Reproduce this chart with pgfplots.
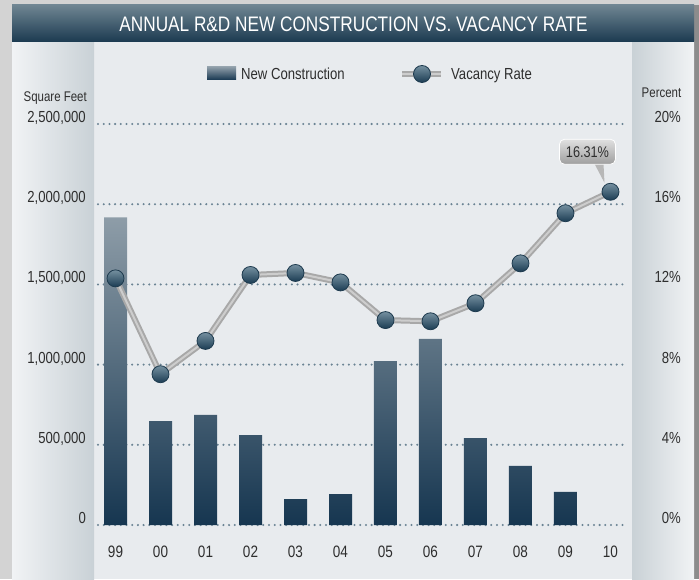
\documentclass[border=0pt]{standalone}
\usepackage{pgfplots}
\pgfplotsset{compat=1.18}
\usepackage{fontspec}
\setmainfont{Liberation Sans}[FakeStretch=0.82]
\definecolor{outerbg}{HTML}{D3D3D3}
\definecolor{outerdark}{HTML}{8C8C8C}
\definecolor{plotbg}{HTML}{E8EBEE}
\definecolor{panelA}{HTML}{F1F3F5}
\definecolor{panelB}{HTML}{C9D1D6}
\definecolor{titleTop}{HTML}{6F8592}
\definecolor{titleBot}{HTML}{1B3A50}
\definecolor{barTop}{HTML}{8E9DA8}
\definecolor{barBot}{HTML}{163650}
\definecolor{gridc}{HTML}{6A8393}
\definecolor{lineOuter}{HTML}{A8A8A8}
\definecolor{lineInner}{HTML}{CDCDCD}
\definecolor{markTop}{HTML}{7590A0}
\definecolor{markBot}{HTML}{1B3C53}
\definecolor{markDraw}{HTML}{1D3A4E}
\definecolor{txt}{HTML}{2E2E2E}
\pgfplotstableread{
x c
0 1918000
1 648000
2 686000
3 561000
4 162000
5 193000
6 1022000
7 1160000
8 542000
9 368000
10 206000
}\constr
\pgfplotstableread{
x v
0 12.30
1 7.52
2 9.18
3 12.47
4 12.57
5 12.10
6 10.22
7 10.16
8 11.06
9 13.05
10 15.55
11 16.62
}\vac
\begin{document}
\begin{tikzpicture}[x=1pt,y=1pt]
% background panels
\fill[outerbg] (0,0) rectangle (699,579);
\fill[outerdark] (694,0) rectangle (699,574);
\fill[plotbg] (12,0) rectangle (694,574);
\shade[left color=panelA, right color=panelB] (12,0) rectangle (94,537);
\shade[left color=panelB, right color=panelA] (632,0) rectangle (694,537);
\shade[top color=titleTop, bottom color=titleBot] (12,537) rectangle (694,574);
\node[anchor=base, inner sep=0pt, text=white, font=\fontsize{21}{24}\selectfont] at (353.5,547.5) {ANNUAL R\&D NEW CONSTRUCTION VS. VACANCY RATE};
% axis titles
\node[anchor=base east, inner sep=0pt, text=txt, font=\fontsize{14}{16}\selectfont] at (87,477.5) {Square Feet};
\node[anchor=base east, inner sep=0pt, text=txt, font=\fontsize{14}{16}\selectfont] at (681.5,481) {Percent};
% legend
\shade[top color=barTop, bottom color=barBot] (207,499) rectangle (236,512);
\node[anchor=base west, inner sep=0pt, text=txt, font=\fontsize{16}{18}\selectfont] at (241,499.3) {New Construction};
\draw[lineOuter, line width=6pt] (402,505) -- (441,505);
\draw[lineInner, line width=2pt] (402,505) -- (441,505);
\shade[top color=markTop, bottom color=markBot, draw=markDraw, line width=0.8pt] (422,505) circle (8.5);
\node[anchor=base west, inner sep=0pt, text=txt, font=\fontsize{16}{18}\selectfont] at (451,499.3) {Vacancy Rate};
% left axis: bars
\begin{axis}[
  at={(98pt,54pt)}, anchor=south west, scale only axis,
  width=529pt, height=401pt,
  xmin=-0.389, xmax=11.367, ymin=0, ymax=2500000,
  axis line style={draw=none}, tick style={draw=none},
  xtick={0,...,11},
  xticklabels={99,00,01,02,03,04,05,06,07,08,09,10},
  ytick={0,500000,1000000,1500000,2000000,2500000},
  scaled y ticks=false,
  /pgf/number format/.cd, fixed, 1000 sep={,}, assume math mode=true, /pgfplots/.cd,
  ymajorgrids,
  grid style={draw=gridc, line width=2.3pt, dash pattern=on 0pt off 5.7pt, line cap=round},
  xticklabel style={anchor=base, inner sep=0pt, yshift=-32.5pt, text=txt, font=\fontsize{16.5}{18}\selectfont},
  yticklabel style={anchor=base east, inner sep=0pt, xshift=-12pt, yshift=1.5pt, text=txt, font=\fontsize{16}{18}\selectfont},
  clip=false,
]
\addplot[ybar, bar width=23pt, draw=none, top color=barTop, bottom color=barBot] table[x=x, y=c] {\constr};
\end{axis}
% right axis: vacancy rate
\begin{axis}[
  at={(98pt,54pt)}, anchor=south west, scale only axis,
  width=529pt, height=401pt,
  xmin=-0.389, xmax=11.367, ymin=0, ymax=20,
  axis x line=none, axis y line*=right,
  axis line style={draw=none}, tick style={draw=none},
  ytick={0,4,8,12,16,20},
  yticklabel={\pgfmathprintnumber{\tick}\%},
  /pgf/number format/assume math mode=true,
  yticklabel style={anchor=base east, inner sep=0pt, xshift=54pt, yshift=1.5pt, text=txt, font=\fontsize{16}{18}\selectfont},
  clip=false,
]
\addplot[draw=lineOuter, line width=6pt] table[x=x, y=v] {\vac};
\addplot[draw=lineInner, line width=2pt,
  nodes near coords={},
  every node near coord/.style={anchor=center, circle, inner sep=0pt, minimum size=17pt, draw=markDraw, line width=0.8pt, top color=markTop, bottom color=markBot}]
  table[x=x, y=v] {\vac};
\fill[lineOuter!80!black!60] (axis cs:11,16.62) ++(-16pt,28pt) -- ++(9pt,0pt) -- ++(1pt,-19pt) -- cycle;
\node[draw=white, line width=0.8pt, rounded corners=5pt, top color=black!12, bottom color=black!38, minimum width=56pt, minimum height=25pt, inner sep=0pt, text=txt, font=\fontsize{15.5}{17}\selectfont] at ([xshift=-23pt, yshift=40pt]axis cs:11,16.62) {16.31\%};
\end{axis}
\end{tikzpicture}
\end{document}
